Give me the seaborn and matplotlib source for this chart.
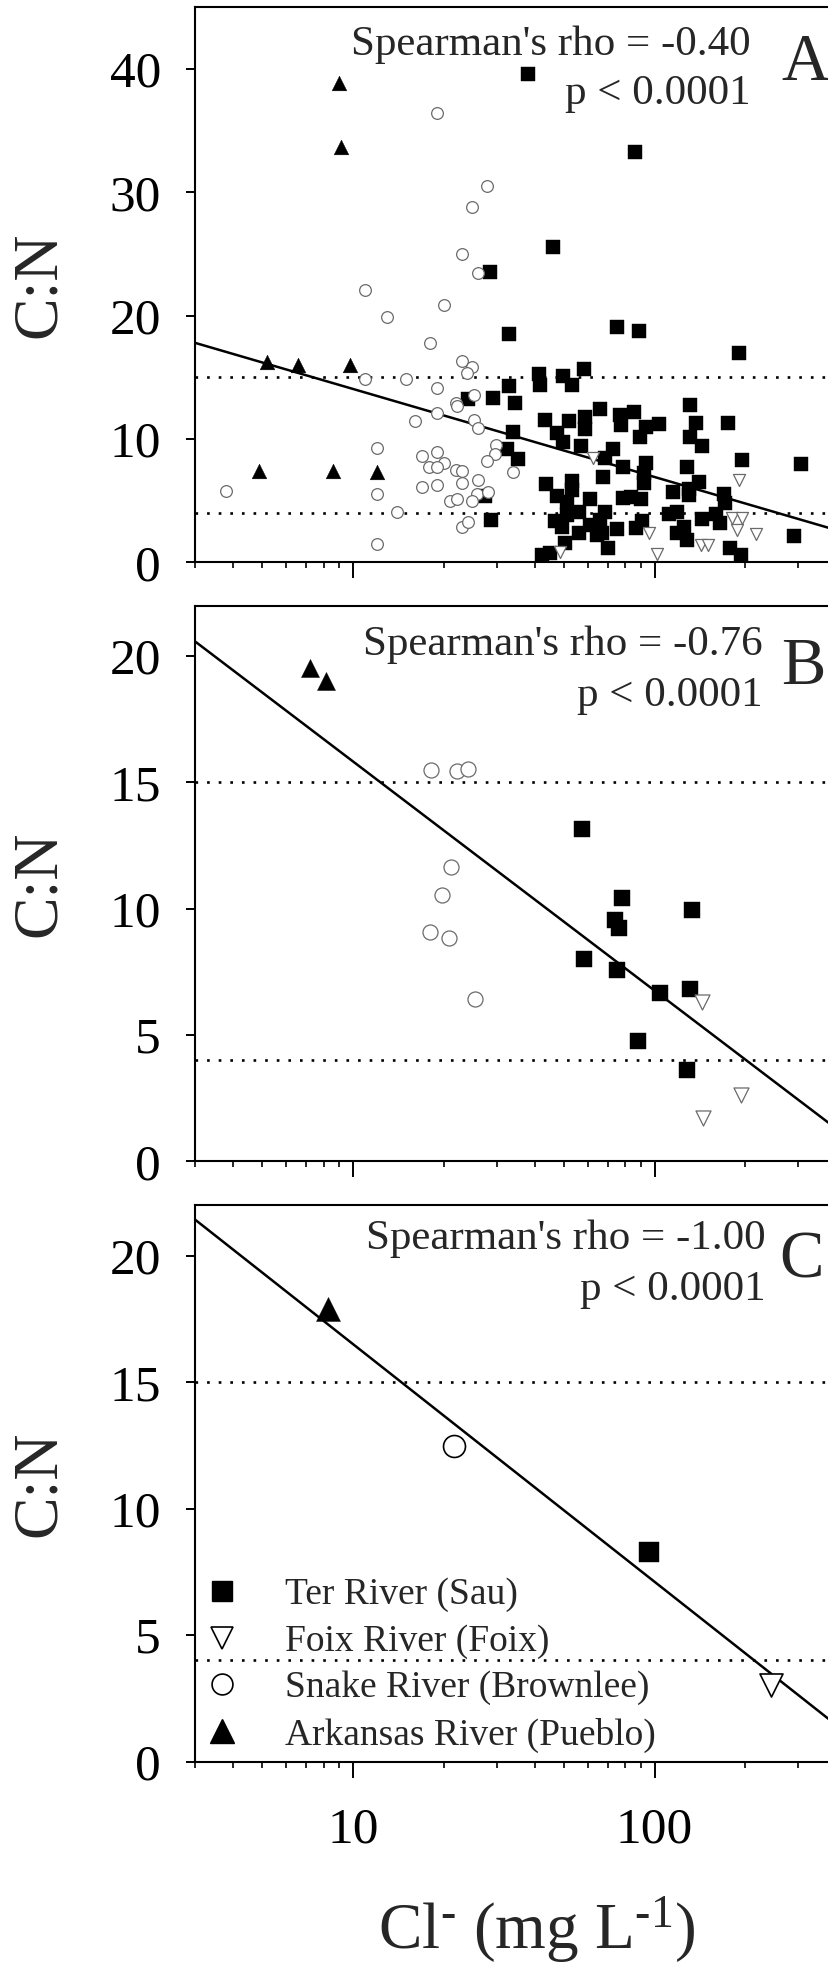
import numpy as np
import matplotlib
matplotlib.use("Agg")
import matplotlib.pyplot as plt
import seaborn as sns
from matplotlib.ticker import FixedLocator, NullFormatter, FuncFormatter, LogLocator
from matplotlib.lines import Line2D

# ---------------- data ----------------
# Panel A
A_ter_x = [38.0, 85.9, 46.2, 28.4, 33.0, 75.0, 88.5, 191,
           24.1, 29.2, 33.0, 34.5, 41.3, 41.6, 49.6, 53.4, 58.3, 43.4, 51.9, 58.9, 58.9, 66.0, 77.1, 77.5,
           47.4, 49.9, 34.0, 32.3, 35.3, 56.9, 72.9, 68.6, 78.6, 67.3, 43.7, 53.1, 53.1, 47.4, 51.2, 61.1,
           78.6, 27.3, 28.6, 46.9, 51.2, 56.0, 49.3, 56.0, 61.1, 64.3, 68.6, 67.0, 75.0, 50.5, 70.1, 42.3, 45.0,
           85.5, 131, 93.5, 103.5, 137, 175, 89.3, 131, 144, 194.5, 305, 93.5, 92.3, 92.3, 128.5, 140.5,
           130, 130, 115, 83.4, 90, 170, 171, 111.7, 119, 160, 164.6, 143.4, 91.1, 86.6, 125.3, 118.5,
           128.5, 178, 193, 290, 66.0]
A_ter_y = [39.6, 33.25, 25.55, 23.55, 18.55, 19.05, 18.8, 16.95,
           13.26, 13.35, 14.34, 12.9, 15.24, 14.4, 15.15, 14.4, 15.66, 11.55, 11.49, 11.76, 10.8, 12.45, 11.94, 11.1,
           10.5, 9.75, 10.56, 9.15, 8.4, 9.45, 9.2, 8.46, 7.74, 6.9, 6.36, 6.6, 5.85, 5.4, 4.86, 5.1,
           5.25, 5.4, 3.45, 3.36, 3.8, 4.05, 2.85, 2.4, 3.0, 2.25, 4.05, 2.4, 2.7, 1.56, 1.2, 0.6, 0.75,
           12.21, 12.76, 11.0, 11.19, 11.32, 11.27, 10.19, 10.19, 9.46, 8.3, 7.97, 8.08, 7.22, 6.4, 7.75, 6.54,
           5.92, 5.46, 5.67, 5.32, 5.1, 5.54, 4.78, 3.92, 4.1, 3.92, 3.16, 3.51, 3.38, 2.75, 2.89, 2.35,
           1.81, 1.13, 0.59, 2.13, 3.4]
A_foix_x = [62.4, 48.5, 190.5, 181, 195, 188, 217.6, 96, 102.2, 142.3, 150.8]
A_foix_y = [8.43, 0.8, 6.67, 3.57, 3.57, 2.62, 2.3, 2.35, 0.67, 1.4, 1.4]
A_snake_x = [3.78, 10.98, 13.0, 18.95, 20.0, 18.0, 23.0, 26.0, 24.9, 27.9,
             23.0, 24.9, 23.9, 10.98, 15.0, 18.95, 25.1, 22.0, 22.2, 16.0,
             18.95, 25.1, 26.0, 29.9, 29.6, 27.9, 12.0, 17.0, 18.95, 20.0,
             17.9, 18.95, 22.0, 23.0, 33.9, 26.0, 23.0, 17.0, 18.95, 12.0,
             25.7, 28.1, 21.0, 22.1, 24.9, 14.0, 23.0, 24.1, 12.0]
A_snake_y = [5.75, 22.1, 19.86, 36.45, 20.83, 17.8, 24.97, 23.47, 28.85, 30.52,
             16.35, 15.84, 15.36, 14.85, 14.85, 14.1, 13.56, 12.96, 12.7, 11.49,
             12.07, 11.55, 10.89, 9.51, 8.76, 8.25, 9.24, 8.64, 8.93, 8.09,
             7.75, 7.75, 7.5, 7.44, 7.29, 6.66, 6.45, 6.14, 6.24, 5.57,
             5.55, 5.7, 4.95, 5.1, 4.95, 4.04, 2.9, 3.3, 1.48]
A_ark_x = [8.99, 9.1, 5.2, 6.59, 9.8, 4.89, 8.6, 11.98]
A_ark_y = [38.85, 33.7, 16.27, 16.0, 16.0, 7.43, 7.43, 7.3]

# Panel B
B_ter_x = [57.4, 77.8, 132.9, 74.0, 76.4, 58.3, 74.9, 104.2, 131.2, 88.4, 127.9]
B_ter_y = [13.17, 10.43, 9.93, 9.54, 9.24, 8.0, 7.57, 6.65, 6.83, 4.75, 3.62]
B_foix_x = [144, 145, 194]
B_foix_y = [6.29, 1.72, 2.62]
B_snake_x = [18.1, 22.2, 24.1, 21.1, 19.7, 18.0, 20.8, 25.4]
B_snake_y = [15.51, 15.47, 15.54, 11.67, 10.56, 9.07, 8.85, 6.43]
B_ark_x = [7.2, 8.12]
B_ark_y = [19.54, 19.03]

# Panel C
C_ter_x, C_ter_y = [96.2], [8.28]
C_foix_x, C_foix_y = [243], [3.03]
C_snake_x, C_snake_y = [21.6], [12.48]
C_ark_x, C_ark_y = [8.26], [17.9]

# fitted lines: C:N = intercept + slope * log10(Cl)
fit_intercept = [21.2, 24.9, 25.91]
fit_slope = [-7.14, -9.07, -9.40]
rho_text = ["Spearman's rho = -0.40", "Spearman's rho = -0.76", "Spearman's rho = -1.00"]
p_text = ["p < 0.0001", "p < 0.0001", "p < 0.0001"]
panel_letters = ["A", "B", "C"]
site_labels = ["Ter River (Sau)", "Foix River (Foix)", "Snake River (Brownlee)", "Arkansas River (Pueblo)"]
ref_lines = [15, 4]
xlabel_hyphen = r"Cl$^{\text{-}}$ (mg L$^{\text{-}1}$)"
xlabel_minus = r"Cl$^{-}$ (mg L$^{-1}$)"

# ---------------- styling ----------------
sns.set_style("white")
plt.rcParams["font.family"] = ["Liberation Serif", "DejaVu Serif"]
plt.rcParams["mathtext.fontset"] = "custom"
plt.rcParams["mathtext.rm"] = "Liberation Serif"
plt.rcParams["mathtext.it"] = "Liberation Serif:italic"
plt.rcParams["mathtext.bf"] = "Liberation Serif:bold"
plt.rcParams["mathtext.default"] = "rm"

W, H = 829, 1966
fig = plt.figure(figsize=(W / 100, H / 100), dpi=100)

left_px = 195.35
width_px = 669.9
panel_px = [(7.5, 562.3), (605.6, 1161.3), (1205.3, 1761.5)]  # (top, bottom)

panels = [
    dict(ter=(A_ter_x, A_ter_y), foix=(A_foix_x, A_foix_y), snake=(A_snake_x, A_snake_y),
         ark=(A_ark_x, A_ark_y), ylim=45, yticks=[0, 10, 20, 30, 40],
         sizes=dict(ter=88, foix=75, snake=71, ark=112), edge="#6a6a6a", elw=0.9,
         txt=(0.8294, 0.9144, 0.8268), let=(0.875, 0.870)),
    dict(ter=(B_ter_x, B_ter_y), foix=(B_foix_x, B_foix_y), snake=(B_snake_x, B_snake_y),
         ark=(B_ark_x, B_ark_y), ylim=22, yticks=[0, 5, 10, 15, 20],
         sizes=dict(ter=132, foix=117, snake=117, ark=169), edge="#6a6a6a", elw=0.9,
         txt=(0.847, 0.9109, 0.8199), let=(0.875, 0.8596)),
    dict(ter=(C_ter_x, C_ter_y), foix=(C_foix_x, C_foix_y), snake=(C_snake_x, C_snake_y),
         ark=(C_ark_x, C_ark_y), ylim=22, yticks=[0, 5, 10, 15, 20],
         sizes=dict(ter=207, foix=275, snake=250, ark=299), edge="black", elw=1.2,
         txt=(0.852, 0.9207, 0.8299), let=(0.872, 0.871)),
]

last_ax = None
for i, p in enumerate(panels):
    top, bot = panel_px[i]
    ax = fig.add_axes([left_px / W, (H - bot) / H, width_px / W, (bot - top) / H])
    ax.set_xscale("log")

    # reference lines
    for yv in ref_lines:
        ax.axhline(yv, color="black", lw=1.9, linestyle=(0, (1, 3.4)), zorder=1)

    # regression line
    lx = np.array([3.0, 500.0])
    ly = fit_intercept[i] + fit_slope[i] * np.log10(lx)
    sns.lineplot(x=lx, y=ly, ax=ax, color="black", lw=1.8, zorder=1.5, legend=False)

    s = p["sizes"]
    sns.scatterplot(x=p["ter"][0], y=p["ter"][1], ax=ax, marker="s", s=s["ter"],
                    color="black", edgecolor="black", linewidth=0.3, zorder=3, legend=False)
    sns.scatterplot(x=p["foix"][0], y=p["foix"][1], ax=ax, marker="v", s=s["foix"],
                    color="white", edgecolor=p["edge"], linewidth=p["elw"], zorder=4, legend=False)
    sns.scatterplot(x=p["snake"][0], y=p["snake"][1], ax=ax, marker="o", s=s["snake"],
                    color="white", edgecolor=p["edge"], linewidth=p["elw"], zorder=4, legend=False)
    sns.scatterplot(x=p["ark"][0], y=p["ark"][1], ax=ax, marker="^", s=s["ark"],
                    color="black", edgecolor="black", linewidth=0.3, zorder=5, legend=False)

    ax.set_xlim(3, 500)
    ax.set_ylim(0, p["ylim"])
    ax.set_yticks(p["yticks"])
    ax.xaxis.set_major_locator(FixedLocator([10, 100, 1000]))
    ax.xaxis.set_minor_locator(LogLocator(base=10, subs=np.arange(2, 10)))
    ax.xaxis.set_minor_formatter(NullFormatter())
    if i == 2:
        ax.xaxis.set_major_formatter(FuncFormatter(lambda v, pos: f"{v:g}"))
    else:
        ax.xaxis.set_major_formatter(NullFormatter())

    for sp in ax.spines.values():
        sp.set_visible(True)
        sp.set_color("black")
        sp.set_linewidth(1.5)

    ax.tick_params(axis="y", which="major", left=True, right=False, direction="out",
                   length=6.7, width=1.4, labelsize=37, pad=18, colors="black")
    ax.tick_params(axis="x", which="major", bottom=True, top=False, direction="out",
                   length=11.5, width=1.4, labelsize=37, pad=21, colors="black")
    ax.tick_params(axis="x", which="minor", bottom=True, top=False, direction="out",
                   length=4.3, width=1.4)

    ax.set_ylabel("C:N", fontsize=46)
    ax.yaxis.set_label_coords(-0.232, 0.5)
    ax.yaxis.label.set_verticalalignment("center")
    ax.set_xlabel("")

    tx, ty1, ty2 = p["txt"]
    ax.text(tx, ty1, rho_text[i], transform=ax.transAxes, ha="right", va="baseline", fontsize=31)
    ax.text(tx, ty2, p_text[i], transform=ax.transAxes, ha="right", va="baseline", fontsize=31)
    lx_, ly_ = p["let"]
    ax.text(lx_, ly_, panel_letters[i], transform=ax.transAxes, ha="left", va="baseline", fontsize=48)

    if i == 2:
        last_ax = ax
        handles = [
            Line2D([], [], marker="s", linestyle="none", markersize=15, markerfacecolor="black",
                   markeredgecolor="black"),
            Line2D([], [], marker="v", linestyle="none", markersize=16, markerfacecolor="white",
                   markeredgecolor="black", markeredgewidth=1.2),
            Line2D([], [], marker="o", linestyle="none", markersize=15, markerfacecolor="white",
                   markeredgecolor="black", markeredgewidth=1.2),
            Line2D([], [], marker="^", linestyle="none", markersize=17, markerfacecolor="black",
                   markeredgecolor="black"),
        ]
        ax.legend(handles, site_labels, loc="lower left", bbox_to_anchor=(0.0119, 0.016),
                  frameon=False, fontsize=27, handlelength=1.0, handletextpad=1.19,
                  labelspacing=0.32, borderpad=0, borderaxespad=0)

# x-axis label (hyphen superscripts if mathtext \text is available)
last_ax.set_xlabel(xlabel_hyphen, fontsize=47)
last_ax.xaxis.set_label_coords(0.5095, -0.3353)
last_ax.xaxis.label.set_verticalalignment("baseline")
try:
    fig.canvas.draw()
except Exception:
    last_ax.set_xlabel(xlabel_minus, fontsize=45)
    last_ax.xaxis.set_label_coords(0.5095, -0.3353)
    last_ax.xaxis.label.set_verticalalignment("baseline")

fig.savefig("out.png", dpi=100, facecolor="white")
